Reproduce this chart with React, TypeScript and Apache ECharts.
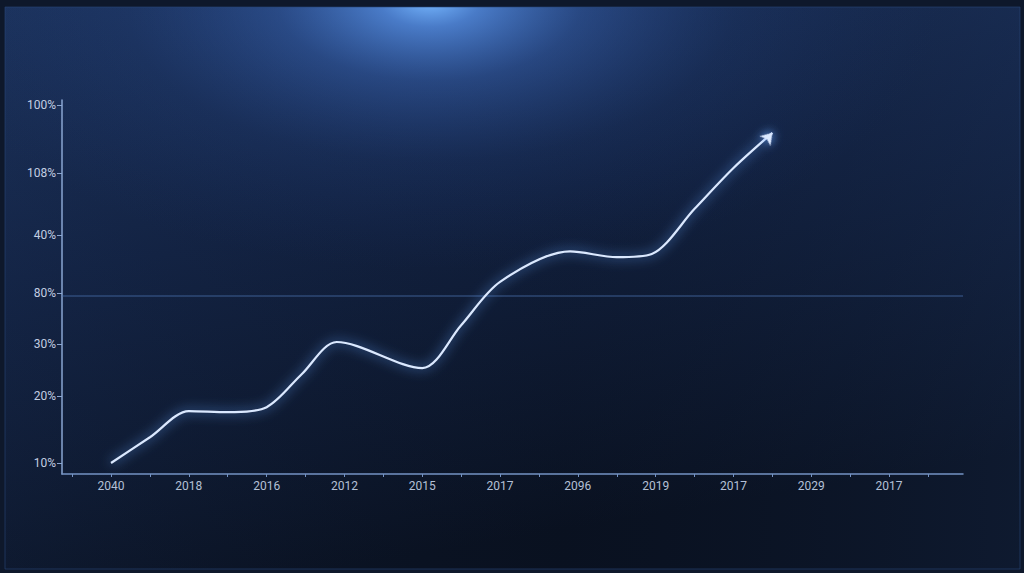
import React, { useEffect, useRef } from "react";
import * as echarts from "echarts";

// x axis: ticks on a 0..22 scale, labels on every other tick
const xTickValues = [0, 1, 2, 3, 4, 5, 6, 7, 8, 9, 10, 11, 12, 13, 14, 15, 16, 17, 18, 19, 20, 21, 22];
const xLabelValues = [1, 3, 5, 7, 9, 11, 13, 15, 17, 19, 21];
const xLabels = ["2040", "2018", "2016", "2012", "2015", "2017", "2096", "2019", "2017", "2029", "2017"];

// y axis: label values on a 0..100 scale (labels as printed)
const yTickValues = [0, 18.7, 33.2, 47.5, 63.7, 81.0, 100];
const yLabels = ["10%", "20%", "30%", "80%", "40%", "108%", "100%"];

// the glowing line
const lineX = [1, 2, 3, 4, 5, 5.9, 6.8, 9, 10, 11, 12.8, 14, 14.9, 16, 17, 18];
const lineY = [0, 7.2, 14.5, 14.2, 15.6, 24.8, 33.8, 26.5, 38.5, 50.6, 59.1, 57.5, 58.4, 71.0, 82.4, 92.2];

// faint horizontal reference line
const refLineValue = 46.6;

function nearestLabel(v: number, values: number[], labels: string[]) {
  let best = -1;
  let bd = Infinity;
  values.forEach((t, i) => {
    const d = Math.abs(t - v);
    if (d < bd) {
      bd = d;
      best = i;
    }
  });
  return bd < 0.01 ? labels[best] : "";
}

export default function App() {
  const ref = useRef<HTMLDivElement>(null);

  useEffect(() => {
    if (!ref.current) return;
    const chart = echarts.init(ref.current, null, { renderer: "svg" });
    const last = lineX.length - 1;
    const W = 1024;
    const H = 573;
    const frame = "#0e182b";
    const font = "Roboto, 'DejaVu Sans', sans-serif";

    chart.setOption({
      animation: false,
      backgroundColor: "#0b1424",
      graphic: [
        {
          type: "rect",
          z: -20,
          silent: true,
          shape: { x: 0, y: 0, width: W, height: H },
          style: {
            fill: new echarts.graphic.LinearGradient(0, 0, 0.3, 1, [
              { offset: 0, color: "#1c335d" },
              { offset: 0.45, color: "#132343" },
              { offset: 1, color: "#0a1221" },
            ]),
          },
        },
        {
          type: "rect",
          z: -19,
          silent: true,
          shape: { x: 0, y: 0, width: W, height: H },
          style: {
            fill: new echarts.graphic.LinearGradient(0, 0, 1, 0, [
              { offset: 0, color: "rgba(25,45,85,0.2)" },
              { offset: 0.55, color: "rgba(5,10,25,0.12)" },
              { offset: 1, color: "rgba(28,50,92,0.25)" },
            ]),
          },
        },
        {
          type: "circle",
          z: -18,
          silent: true,
          x: 430,
          y: 0,
          scaleX: 1.7,
          scaleY: 0.9,
          shape: { cx: 0, cy: 0, r: 300 },
          style: {
            fill: new echarts.graphic.RadialGradient(0.5, 0.5, 0.5, [
              { offset: 0, color: "rgba(120,185,255,1)" },
              { offset: 0.1, color: "rgba(90,150,240,0.75)" },
              { offset: 0.3, color: "rgba(65,115,205,0.42)" },
              { offset: 0.6, color: "rgba(45,85,165,0.15)" },
              { offset: 1, color: "rgba(30,60,130,0)" },
            ]),
          },
        },
        { type: "rect", z: 100, silent: true, shape: { x: 0, y: 0, width: W, height: 7 }, style: { fill: frame } },
        { type: "rect", z: 100, silent: true, shape: { x: 0, y: 0, width: 5, height: H }, style: { fill: frame } },
        { type: "rect", z: 100, silent: true, shape: { x: W - 4, y: 0, width: 4, height: H }, style: { fill: frame } },
        { type: "rect", z: 100, silent: true, shape: { x: 0, y: H - 4, width: W, height: 4 }, style: { fill: frame } },
        {
          type: "rect",
          z: 101,
          silent: true,
          shape: { x: 5, y: 7, width: W - 9, height: H - 11 },
          style: { fill: "none", stroke: "rgba(40,70,120,0.6)", lineWidth: 1 },
        },
      ],
      grid: { left: 62, right: 61, top: 100, bottom: 99, containLabel: false },
      xAxis: {
        type: "value",
        min: -0.26,
        max: 22.9,
        splitLine: { show: false },
        axisLine: { show: true, onZero: false, lineStyle: { color: "#7493c4", width: 1.5 } },
        axisTick: {
          show: true,
          customValues: xTickValues,
          length: 3,
          lineStyle: { color: "#7493c4", width: 1 },
        },
        axisLabel: {
          customValues: xLabelValues,
          margin: 6,
          color: "#b4c0d6",
          fontSize: 12,
          fontFamily: font,
          formatter: (v: number) => nearestLabel(v, xLabelValues, xLabels),
        },
      },
      yAxis: {
        type: "value",
        min: -3.07,
        max: 101.4,
        splitLine: { show: false },
        axisLine: { show: true, onZero: false, lineStyle: { color: "#8aa6d2", width: 1.5 } },
        axisTick: {
          show: true,
          customValues: yTickValues,
          length: 5,
          lineStyle: { color: "#8aa6d2", width: 1 },
        },
        axisLabel: {
          customValues: yTickValues,
          margin: 6,
          color: "#c3cee2",
          fontSize: 12,
          fontFamily: font,
          formatter: (v: number) => nearestLabel(v, yTickValues, yLabels),
        },
      },
      series: [
        {
          type: "line",
          smooth: 0.3,
          showSymbol: true,
          symbol: (_v: any, p: any) => (p.dataIndex === last ? "arrow" : "none"),
          symbolSize: 11,
          symbolRotate: (_v: any, p: any) => (p.dataIndex === last ? -42 : 0),
          data: lineX.map((x, i) => [x, lineY[i]]),
          lineStyle: {
            color: "#dbe9ff",
            width: 2.2,
            shadowBlur: 12,
            shadowColor: "rgba(100,165,255,1)",
          },
          itemStyle: {
            color: "#dbe9ff",
            shadowBlur: 10,
            shadowColor: "rgba(100,165,255,1)",
          },
          z: 5,
          markLine: {
            silent: true,
            symbol: "none",
            label: { show: false },
            lineStyle: { color: "rgba(75,115,175,0.5)", width: 1.5, type: "solid" },
            data: [{ yAxis: refLineValue }],
          },
        },
      ],
    });

    return () => chart.dispose();
  }, []);

  return (
    <div
      ref={ref}
      style={{ position: "absolute", left: 0, top: 0, width: 1024, height: 573 }}
    />
  );
}
